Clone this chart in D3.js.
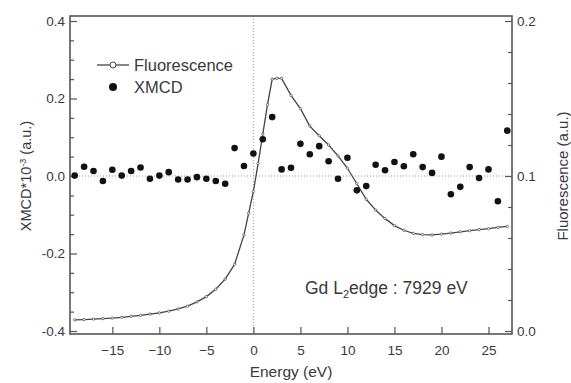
<!DOCTYPE html>
<html>
<head>
<meta charset="utf-8">
<script src="https://cdn.jsdelivr.net/npm/d3@7"></script>
<style>
  body { margin: 0; background: #fff; }
  svg { display: block; font-family: "Liberation Sans", Arial, sans-serif; }
</style>
</head>
<body>
<svg id="chart" width="571" height="383"></svg>
<script>
// XMCD points (left axis, x10^-3 a.u.)
const xmcdEnergy = [-19, -18, -17, -16, -15, -14, -13, -12, -11, -10, -9, -8, -7, -6, -5, -4, -3, -2, -1, 0,
  1, 2, 3, 4, 5, 6, 7, 8, 9, 10, 11, 12, 13, 14, 15, 16, 17, 18, 19, 20, 21, 22, 23, 24, 25, 26, 27];
const xmcdValues = [0.001, 0.024, 0.013, -0.013, 0.016, 0.001, 0.013, 0.022, -0.007, 0.001, 0.010, -0.009, -0.009,
  -0.003, -0.007, -0.013, -0.020, 0.072, 0.026, 0.058, 0.095, 0.152, 0.017, 0.021, 0.083, 0.056, 0.077, 0.038,
  -0.007, 0.047, -0.037, -0.026, 0.029, 0.015, 0.036, 0.025, 0.056, 0.023, 0.008, 0.050, -0.047, -0.028, 0.023,
  -0.005, 0.017, -0.065, 0.117];

// Fluorescence curve (right axis, a.u.)
const fluoEnergy = [-19, -18, -17, -16, -15, -14, -13, -12, -11, -10, -9, -8, -7, -6, -5, -4, -3, -2, -1, -0.5, 0,
  0.5, 1, 1.5, 2, 2.5, 3, 4, 5, 6, 7, 8, 9, 10, 11, 12, 13, 14, 15, 16, 17, 18, 19, 20, 21, 22, 23, 24, 25, 26, 27];
const fluoValues = [0.0072, 0.0074, 0.0077, 0.0080, 0.0083, 0.0088, 0.0094, 0.0101, 0.0109, 0.0117, 0.0128, 0.0142,
  0.0160, 0.0188, 0.0222, 0.0269, 0.0335, 0.0430, 0.0620, 0.0760, 0.0900, 0.1080, 0.1270, 0.1460, 0.1625, 0.1630,
  0.1630, 0.1520, 0.1435, 0.1322, 0.1260, 0.1200, 0.1130, 0.1050, 0.0950, 0.0850, 0.0780, 0.0725, 0.0680, 0.0650,
  0.0630, 0.0622, 0.0620, 0.0625, 0.0632, 0.0640, 0.0647, 0.0654, 0.0660, 0.0668, 0.0675];

const xTicks = [-15, -10, -5, 0, 5, 10, 15, 20, 25];
const leftTicks = [-0.4, -0.2, 0.0, 0.2, 0.4];
const leftMinor = [-0.35, -0.3, -0.25, -0.15, -0.1, -0.05, 0.05, 0.1, 0.15, 0.25, 0.3, 0.35];
const rightTicks = [0.0, 0.1, 0.2];
const rightMinor = [0.02, 0.04, 0.06, 0.08, 0.12, 0.14, 0.16, 0.18];

const svg = d3.select("#chart");
const frame = { left: 70, right: 512, top: 16, bottom: 334 };
const ink = "#3a3a3a";

const x = d3.scaleLinear().domain([-19.5, 27.5]).range([frame.left, frame.right]);
const y = d3.scaleLinear().domain([-0.4, 0.4]).range([331, 21]);
const y2 = d3.scaleLinear().domain([0, 0.2]).range([331, 21]);

// zero guide lines
svg.append("line")
  .attr("x1", x(0)).attr("x2", x(0))
  .attr("y1", frame.top).attr("y2", frame.bottom)
  .attr("stroke", "#999").attr("stroke-width", 1).attr("stroke-dasharray", "1,2");
svg.append("line")
  .attr("x1", frame.left).attr("x2", frame.right)
  .attr("y1", y(0)).attr("y2", y(0))
  .attr("stroke", "#999").attr("stroke-width", 1).attr("stroke-dasharray", "1,2");

function styleAxis(g) {
  g.select(".domain").remove();
  g.selectAll("line").attr("stroke", "#555").attr("stroke-width", 1.2);
  g.selectAll("text").attr("fill", ink).style("font-size", "13.5px");
}

svg.append("g")
  .attr("transform", `translate(0,${frame.bottom})`)
  .call(d3.axisBottom(x).tickValues(xTicks).tickSize(-7).tickPadding(11).tickFormat(d3.format("d")))
  .call(styleAxis);

svg.append("g")
  .attr("transform", `translate(${frame.left},0)`)
  .call(d3.axisLeft(y).tickValues(leftTicks).tickSize(-7).tickPadding(5).tickFormat(d => d3.format(".1f")(d).replace("−", "-")))
  .call(styleAxis);
svg.append("g")
  .attr("transform", `translate(${frame.left},0)`)
  .call(d3.axisLeft(y).tickValues(leftMinor).tickSize(-4).tickFormat(""))
  .call(styleAxis);

svg.append("g")
  .attr("transform", `translate(${frame.right},0)`)
  .call(d3.axisRight(y2).tickValues(rightTicks).tickSize(-7).tickPadding(5).tickFormat(d3.format(".1f")))
  .call(styleAxis);
svg.append("g")
  .attr("transform", `translate(${frame.right},0)`)
  .call(d3.axisRight(y2).tickValues(rightMinor).tickSize(-4).tickFormat(""))
  .call(styleAxis);

// frame
svg.append("rect")
  .attr("x", frame.left).attr("y", frame.top)
  .attr("width", frame.right - frame.left).attr("height", frame.bottom - frame.top)
  .attr("fill", "none").attr("stroke", "#555").attr("stroke-width", 1.6);

// fluorescence curve
const fluo = fluoEnergy.map((e, i) => ({ e, v: fluoValues[i] }));
svg.append("path")
  .datum(fluo)
  .attr("fill", "none")
  .attr("stroke", "#444")
  .attr("stroke-width", 1.3)
  .attr("d", d3.line().x(d => x(d.e)).y(d => y2(d.v)));
svg.append("g").selectAll("circle")
  .data(fluo)
  .join("circle")
  .attr("cx", d => x(d.e)).attr("cy", d => y2(d.v))
  .attr("r", 1.2)
  .attr("fill", "#fff").attr("stroke", "#555").attr("stroke-width", 0.8);

// XMCD dots
svg.append("g").selectAll("circle")
  .data(xmcdEnergy.map((e, i) => ({ e, v: xmcdValues[i] })))
  .join("circle")
  .attr("cx", d => x(d.e)).attr("cy", d => y(d.v))
  .attr("r", 3.3)
  .attr("fill", "#111");

// legend
const legend = svg.append("g").attr("fill", ink).style("font-size", "16.5px");
legend.append("line").attr("x1", 97).attr("x2", 129).attr("y1", 65).attr("y2", 65)
  .attr("stroke", "#444").attr("stroke-width", 1.3);
legend.append("circle").attr("cx", 113).attr("cy", 65).attr("r", 3)
  .attr("fill", "#fff").attr("stroke", "#444").attr("stroke-width", 1);
legend.append("text").attr("x", 134).attr("y", 71).text("Fluorescence");
legend.append("circle").attr("cx", 113).attr("cy", 87).attr("r", 4).attr("fill", "#111");
legend.append("text").attr("x", 134).attr("y", 93).text("XMCD");

// edge annotation
const note = svg.append("text").attr("x", 305).attr("y", 294).attr("fill", ink).style("font-size", "17.5px");
note.append("tspan").text("Gd L");
note.append("tspan").attr("dy", 4).style("font-size", "11px").text("2");
note.append("tspan").attr("dy", -4).text("edge : 7929 eV");

// axis titles
svg.append("text")
  .attr("x", (frame.left + frame.right) / 2).attr("y", 377)
  .attr("text-anchor", "middle").attr("fill", ink).style("font-size", "15.5px")
  .text("Energy (eV)");

const yl = svg.append("text")
  .attr("transform", "translate(31,176) rotate(-90)")
  .attr("text-anchor", "middle").attr("fill", ink).style("font-size", "14.5px");
yl.append("tspan").text("XMCD*10");
yl.append("tspan").attr("dy", -5).style("font-size", "9px").text("-3");
yl.append("tspan").attr("dy", 5).text(" (a.u.)");

svg.append("text")
  .attr("transform", "translate(568,176) rotate(-90)")
  .attr("text-anchor", "middle").attr("fill", ink).style("font-size", "15px")
  .text("Fluorescence (a.u.)");
</script>
</body>
</html>
